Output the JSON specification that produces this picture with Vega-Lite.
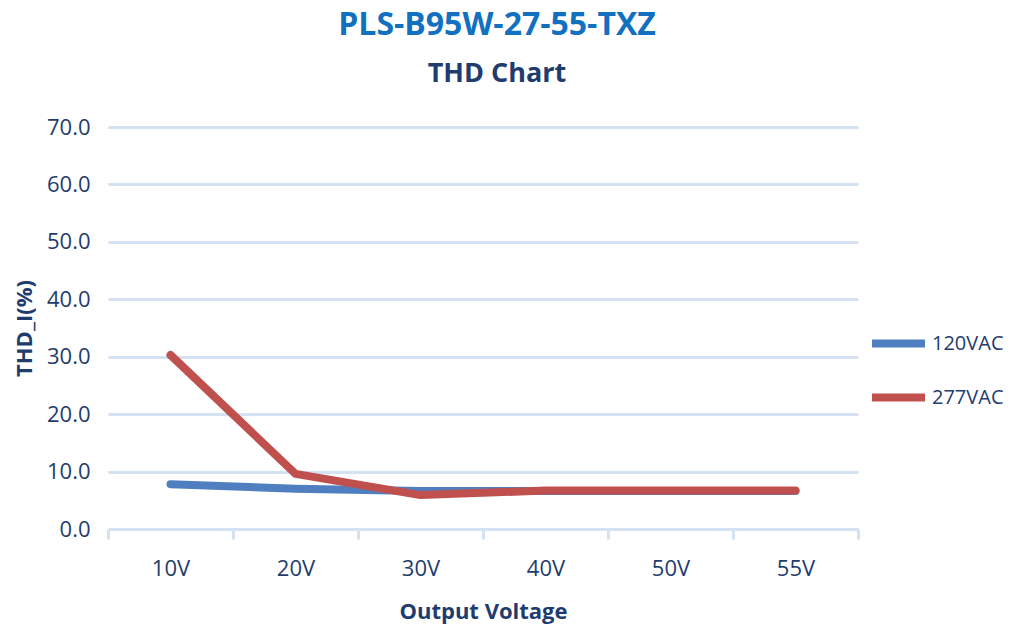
{
  "$schema": "https://vega.github.io/schema/vega-lite/v6.json",
  "width": 750,
  "height": 402,
  "padding": {"left": 13, "top": 9, "right": 4, "bottom": 4},
  "background": "white",
  "config": {"view": {"stroke": null}, "font": "Open Sans"},
  "title": {
    "text": "PLS-B95W-27-55-TXZ",
    "subtitle": "THD Chart",
    "fontSize": 32,
    "fontWeight": "bold",
    "color": "#1170c0",
    "subtitleFontSize": 27,
    "subtitleFontWeight": "bold",
    "subtitleColor": "#1f3c6e",
    "anchor": "middle",
    "offset": 28,
    "subtitlePadding": 19,
    "dx": 14
  },
  "data": {
    "values": [
      {"voltage": "10V", "series": "120VAC", "thd": 7.8},
      {"voltage": "20V", "series": "120VAC", "thd": 7.0},
      {"voltage": "30V", "series": "120VAC", "thd": 6.6},
      {"voltage": "40V", "series": "120VAC", "thd": 6.6},
      {"voltage": "50V", "series": "120VAC", "thd": 6.6},
      {"voltage": "55V", "series": "120VAC", "thd": 6.6},
      {"voltage": "10V", "series": "277VAC", "thd": 30.3},
      {"voltage": "20V", "series": "277VAC", "thd": 9.6},
      {"voltage": "30V", "series": "277VAC", "thd": 5.9},
      {"voltage": "40V", "series": "277VAC", "thd": 6.7},
      {"voltage": "50V", "series": "277VAC", "thd": 6.7},
      {"voltage": "55V", "series": "277VAC", "thd": 6.7}
    ]
  },
  "mark": {"type": "line", "strokeWidth": 8, "strokeCap": "round", "strokeJoin": "round"},
  "encoding": {
    "x": {
      "field": "voltage",
      "type": "ordinal",
      "sort": ["10V", "20V", "30V", "40V", "50V", "55V"],
      "bandPosition": 0.5,
      "scale": {"type": "band", "paddingInner": 0, "paddingOuter": 0},
      "axis": {
        "title": "Output Voltage",
        "labelAngle": 0,
        "tickBand": "extent",
        "domainColor": "#d5e2f1",
        "domainWidth": 3,
        "tickColor": "#d5e2f1",
        "tickWidth": 3,
        "tickSize": 10,
        "labelPadding": 19,
        "labelFontSize": 22,
        "labelColor": "#1f3c6e",
        "titleFontSize": 22,
        "titleFontWeight": "bold",
        "titleColor": "#1f3c6e",
        "titlePadding": 22
      }
    },
    "y": {
      "field": "thd",
      "type": "quantitative",
      "scale": {"domain": [0, 70]},
      "axis": {
        "title": "THD_I(%)",
        "values": [0, 10, 20, 30, 40, 50, 60, 70],
        "format": ".1f",
        "grid": true,
        "gridColor": "#d5e2f1",
        "gridWidth": 3,
        "domain": false,
        "ticks": false,
        "labelPadding": 18,
        "labelFontSize": 22,
        "labelColor": "#1f3c6e",
        "titleFontSize": 22,
        "titleFontWeight": "bold",
        "titleColor": "#1f3c6e",
        "titlePadding": 10
      }
    },
    "color": {
      "field": "series",
      "type": "nominal",
      "scale": {"domain": ["120VAC", "277VAC"], "range": ["#4f7fc0", "#c0504d"]},
      "legend": {
        "title": null,
        "orient": "none",
        "legendX": 760,
        "legendY": 186,
        "symbolType": "stroke",
        "symbolSize": 2809,
        "symbolStrokeWidth": 8,
        "rowPadding": 7,
        "labelFontSize": 20,
        "labelColor": "#1f3c6e",
        "labelOffset": 3
      }
    }
  }
}
